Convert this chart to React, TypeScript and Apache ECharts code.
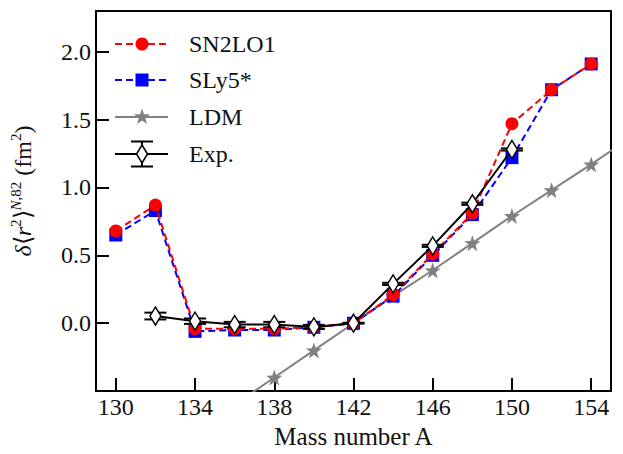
import React, { useEffect, useRef } from "react";
import * as echarts from "echarts";

// ---- data ----
const massNumbers = [130, 132, 134, 136, 138, 140, 142, 144, 146, 148, 150, 152, 154];
const sn2lo1 = [0.68, 0.87, -0.04, -0.04, -0.04, -0.03, 0.0, 0.21, 0.51, 0.81, 1.47, 1.72, 1.91];
const sly5 = [0.65, 0.83, -0.06, -0.05, -0.05, -0.03, 0.0, 0.2, 0.5, 0.8, 1.22, 1.72, 1.91];
const ldmMass = [130, 132, 134, 136, 138, 140, 142, 144, 146, 148, 150, 152, 154, 156];
const ldm = [-1.19, -0.99, -0.79, -0.6, -0.4, -0.2, 0.0, 0.2, 0.39, 0.59, 0.79, 0.98, 1.17, 1.37];
const expMass = [132, 134, 136, 138, 140, 142, 144, 146, 148, 150];
const expVal = [0.053, 0.015, -0.01, -0.01, -0.027, 0.0, 0.29, 0.57, 0.88, 1.28];
const expErr = [0.025, 0.02, 0.02, 0.02, 0.015, 0.003, 0.008, 0.008, 0.008, 0.008];
const xTicks = [130, 134, 138, 142, 146, 150, 154];
const yTicks = [0, 0.5, 1.0, 1.5, 2.0];
const legendNames = ["SN2LO1", "SLy5*", "LDM", "Exp."];

const FONT = "'Liberation Serif', 'Times New Roman', Times, serif";
const TXT = "#111";
const RED = "#ff0000";
const BLUE = "#0000ff";
const GRAY = "#808080";

function starPoints(cx: number, cy: number, ro: number, ri: number): number[][] {
  const pts: number[][] = [];
  for (let i = 0; i < 10; i++) {
    const r = i % 2 === 0 ? ro : ri;
    const a = -Math.PI / 2 + (i * Math.PI) / 5;
    pts.push([cx + r * Math.cos(a), cy + r * Math.sin(a)]);
  }
  return pts;
}
const starPath =
  "path://" +
  starPoints(0, 0, 10, 4)
    .map((p, i) => (i === 0 ? "M" : "L") + p[0].toFixed(2) + "," + p[1].toFixed(2))
    .join(" ") +
  " Z";
const diamondPath = "path://M0,-10 L6,0 L0,10 L-6,0 Z";

export default function App() {
  const ref = useRef<HTMLDivElement>(null);
  useEffect(() => {
    if (!ref.current) return;
    const chart = echarts.init(ref.current, undefined, { renderer: "svg" });

    const lx0 = 115;
    const lx1 = 168;
    const lxc = 142;
    const rows = [44, 80, 117, 154];
    const legendGraphics: any[] = [
      { type: "line", shape: { x1: lx0, y1: rows[0], x2: lx1, y2: rows[0] }, style: { stroke: RED, lineWidth: 2, lineDash: [7, 4] } },
      { type: "circle", shape: { cx: lxc, cy: rows[0], r: 6.5 }, style: { fill: RED } },
      { type: "line", shape: { x1: lx0, y1: rows[1], x2: lx1, y2: rows[1] }, style: { stroke: BLUE, lineWidth: 2, lineDash: [7, 4] } },
      { type: "rect", shape: { x: lxc - 6.5, y: rows[1] - 6.5, width: 13, height: 13 }, style: { fill: BLUE } },
      { type: "line", shape: { x1: lx0, y1: rows[2], x2: lx1, y2: rows[2] }, style: { stroke: GRAY, lineWidth: 2 } },
      { type: "polygon", shape: { points: starPoints(lxc, rows[2], 8.5, 3.4) }, style: { fill: GRAY } },
      { type: "line", shape: { x1: lx0, y1: rows[3], x2: lx1, y2: rows[3] }, style: { stroke: "#000", lineWidth: 2 } },
      { type: "line", shape: { x1: lxc, y1: rows[3] - 12.5, x2: lxc, y2: rows[3] + 12.5 }, style: { stroke: "#000", lineWidth: 2 } },
      { type: "line", shape: { x1: lxc - 11, y1: rows[3] - 12.5, x2: lxc + 11, y2: rows[3] - 12.5 }, style: { stroke: "#000", lineWidth: 2 } },
      { type: "line", shape: { x1: lxc - 11, y1: rows[3] + 12.5, x2: lxc + 11, y2: rows[3] + 12.5 }, style: { stroke: "#000", lineWidth: 2 } },
      { type: "polygon", shape: { points: [[lxc, rows[3] - 9], [lxc + 5.5, rows[3]], [lxc, rows[3] + 9], [lxc - 5.5, rows[3]]] }, style: { fill: "#fff", stroke: "#000", lineWidth: 1.5 } },
    ];
    legendNames.forEach((n, i) => {
      legendGraphics.push({
        type: "text",
        x: 189,
        y: rows[i],
        style: { text: n, fontFamily: FONT, fontSize: 24, fill: TXT, verticalAlign: "middle", align: "left" },
      });
    });

    chart.setOption({
      animation: false,
      backgroundColor: "#fff",
      grid: { left: 92, top: 11, right: 12, bottom: 57, show: true, borderColor: "#000", borderWidth: 2, backgroundColor: "transparent" },
      xAxis: {
        type: "value",
        min: 129,
        max: 155,
        name: "Mass number A",
        nameLocation: "middle",
        nameGap: 31,
        nameTextStyle: { fontFamily: FONT, fontSize: 25, color: TXT },
        axisLine: { show: true, onZero: false, lineStyle: { color: "#000", width: 2 } },
        axisTick: { show: true, inside: true, length: 13, lineStyle: { color: "#000", width: 2 }, customValues: xTicks },
        axisLabel: { fontFamily: FONT, fontSize: 24, color: TXT, margin: 4, customValues: xTicks },
        splitLine: { show: false },
      },
      yAxis: {
        type: "value",
        min: -0.5,
        max: 2.3,
        name: "{i|δ}{n|⟨}{i|r}{s|2}{n|⟩}{si|N}{s|,82}{n| (fm}{s|2}{n|)}",
        nameLocation: "middle",
        nameGap: 58,
        nameRotate: 90,
        nameTextStyle: {
          fontFamily: FONT,
          fontSize: 24,
          color: TXT,
          padding: [0, 0, 0, 20],
          rich: {
            n: { fontFamily: FONT, fontSize: 24, color: TXT, lineHeight: 30 },
            i: { fontFamily: FONT, fontSize: 24, fontStyle: "italic", color: TXT, lineHeight: 30 },
            s: { fontFamily: FONT, fontSize: 15, color: TXT, lineHeight: 15, verticalAlign: "top" },
            si: { fontFamily: FONT, fontSize: 15, fontStyle: "italic", color: TXT, lineHeight: 15, verticalAlign: "top" },
          },
        },
        axisLine: { show: true, onZero: false, lineStyle: { color: "#000", width: 2 } },
        axisTick: { show: true, inside: true, length: 13, lineStyle: { color: "#000", width: 2 }, customValues: yTicks },
        axisLabel: {
          fontFamily: FONT,
          fontSize: 24,
          color: TXT,
          margin: 5,
          customValues: yTicks,
          formatter: (v: number) => v.toFixed(1),
        },
        splitLine: { show: false },
      },
      graphic: legendGraphics,
      series: [
        {
          name: "LDM",
          type: "line",
          z: 1,
          clip: true,
          data: ldmMass.map((m, i) => [m, ldm[i]]),
          lineStyle: { color: GRAY, width: 2 },
          itemStyle: { color: GRAY },
          symbol: starPath,
          symbolSize: 16,
          showAllSymbol: true,
        },
        {
          name: "SLy5*",
          type: "line",
          z: 2,
          clip: true,
          data: massNumbers.map((m, i) => [m, sly5[i]]),
          lineStyle: { color: BLUE, width: 2, type: [7, 4] },
          itemStyle: { color: BLUE },
          symbol: "rect",
          symbolSize: 13,
          showAllSymbol: true,
        },
        {
          name: "SN2LO1",
          type: "line",
          z: 3,
          clip: true,
          data: massNumbers.map((m, i) => [m, sn2lo1[i]]),
          lineStyle: { color: RED, width: 2, type: [7, 4] },
          itemStyle: { color: RED },
          symbol: "circle",
          symbolSize: 13,
          showAllSymbol: true,
        },
        {
          name: "ExpErr",
          type: "custom",
          z: 4,
          data: expMass.map((m, i) => [m, expVal[i], expErr[i]]),
          renderItem: (params: any, api: any) => {
            const x = api.value(0);
            const y = api.value(1);
            const e = api.value(2);
            const top = api.coord([x, y + e]);
            const bot = api.coord([x, y - e]);
            const hw = 11;
            const st = { stroke: "#000", lineWidth: 2 };
            return {
              type: "group",
              children: [
                { type: "line", shape: { x1: top[0], y1: top[1], x2: bot[0], y2: bot[1] }, style: st },
                { type: "line", shape: { x1: top[0] - hw, y1: top[1], x2: top[0] + hw, y2: top[1] }, style: st },
                { type: "line", shape: { x1: bot[0] - hw, y1: bot[1], x2: bot[0] + hw, y2: bot[1] }, style: st },
              ],
            };
          },
        },
        {
          name: "Exp.",
          type: "line",
          z: 5,
          clip: true,
          data: expMass.map((m, i) => [m, expVal[i]]),
          lineStyle: { color: "#000", width: 2 },
          itemStyle: { color: "#fff", borderColor: "#000", borderWidth: 1.5 },
          symbol: diamondPath,
          symbolSize: [11, 18],
          showAllSymbol: true,
        },
      ],
    });
    return () => chart.dispose();
  }, []);
  return <div ref={ref} style={{ position: "absolute", left: 0, top: 0, width: 623, height: 454 }} />;
}
